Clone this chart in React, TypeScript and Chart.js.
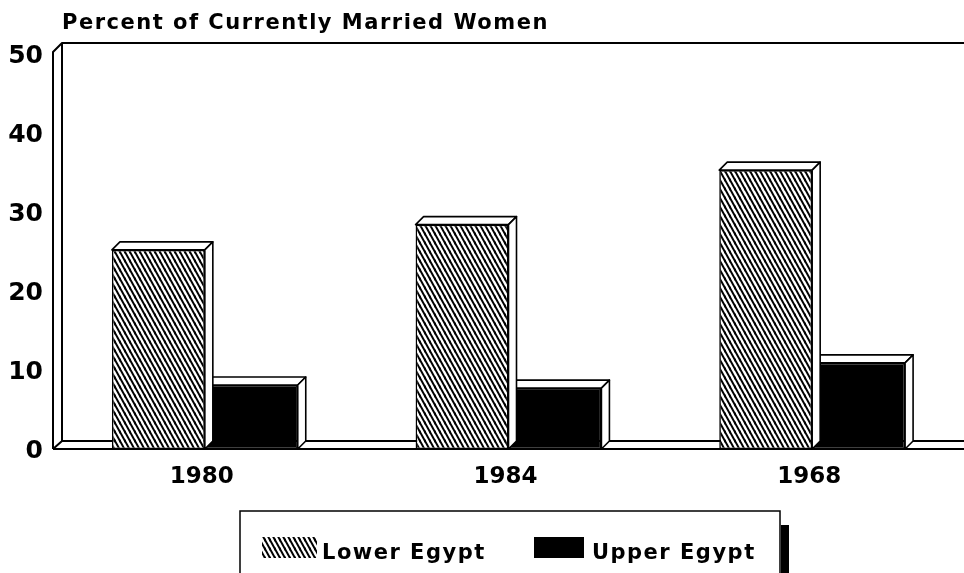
import React, { useEffect, useRef } from "react";
import { Chart, registerables } from "chart.js";

Chart.register(...registerables);

const categories = ["1980", "1984", "1968"];
const lowerEgypt = [25.2, 28.4, 35.3];
const upperEgypt = [8.1, 7.7, 10.9];
const seriesLabels = ["Lower Egypt", "Upper Egypt"];
const yMin = 0;
const yMax = 50;
const yStep = 10;
const titleText = "Percent of Currently Married Women";

function makeHatch(ctxRef: CanvasRenderingContext2D): CanvasPattern | string {
  const w = 5;
  const h = 9;
  const c = document.createElement("canvas");
  c.width = w;
  c.height = h;
  const g = c.getContext("2d");
  if (!g) return "#888";
  g.fillStyle = "#fff";
  g.fillRect(0, 0, w, h);
  g.strokeStyle = "#000";
  g.lineWidth = 2;
  const offs = [
    [0, 0],
    [-w, 0],
    [w, 0],
    [0, -h],
    [0, h],
  ];
  for (const [ox, oy] of offs) {
    g.beginPath();
    g.moveTo(-w + ox, -h + oy);
    g.lineTo(2 * w + ox, 2 * h + oy);
    g.stroke();
  }
  return ctxRef.createPattern(c, "repeat") || "#888";
}

const BAR_DEPTH = 8;
const WALL_DEPTH = 9;
const FONT = '"DejaVu Sans", sans-serif';

const threeDPlugin = {
  id: "threeD",
  beforeDraw(chart: any) {
    (chart.ctx as any).letterSpacing = "0px";
  },
  beforeDatasetsDraw(chart: any) {
    const { ctx, chartArea } = chart;
    const { left, right, top, bottom } = chartArea;
    const D = WALL_DEPTH;
    const yTop = top - 2;
    ctx.save();
    ctx.strokeStyle = "#000";
    ctx.lineWidth = 2;
    ctx.lineJoin = "round";
    ctx.beginPath();
    ctx.moveTo(left, bottom);
    ctx.lineTo(left, yTop);
    ctx.lineTo(left + D, yTop - D);
    ctx.lineTo(right + 20, yTop - D);
    ctx.moveTo(left + D, yTop - D);
    ctx.lineTo(left + D, bottom - 8);
    ctx.lineTo(right + 20, bottom - 8);
    ctx.moveTo(left, bottom);
    ctx.lineTo(left + D, bottom - 8);
    ctx.moveTo(left, bottom);
    ctx.lineTo(right + 20, bottom);
    ctx.stroke();
    ctx.restore();
  },
  afterDatasetDraw(chart: any, args: any) {
    const { ctx } = chart;
    const meta = chart.getDatasetMeta(args.index);
    const d = BAR_DEPTH;
    ctx.save();
    ctx.strokeStyle = "#000";
    ctx.fillStyle = "#fff";
    ctx.lineWidth = 1.6;
    ctx.lineJoin = "round";
    meta.data.forEach((el: any) => {
      const p = el.getProps(["x", "y", "base", "width"], true);
      const x1 = p.x - p.width / 2;
      const x2 = p.x + p.width / 2;
      const y = p.y;
      const base = p.base;
      ctx.beginPath();
      ctx.moveTo(x1, y);
      ctx.lineTo(x1 + d, y - d);
      ctx.lineTo(x2 + d, y - d);
      ctx.lineTo(x2, y);
      ctx.closePath();
      ctx.fill();
      ctx.stroke();
      ctx.beginPath();
      ctx.moveTo(x2, y);
      ctx.lineTo(x2 + d, y - d);
      ctx.lineTo(x2 + d, base - d);
      ctx.lineTo(x2, base);
      ctx.closePath();
      ctx.fill();
      ctx.stroke();
    });
    ctx.restore();
  },
  afterDraw(chart: any) {
    const { ctx } = chart;
    ctx.save();
    // title
    ctx.fillStyle = "#000";
    ctx.font = "bold 21px " + FONT;
    (ctx as any).letterSpacing = "1.5px";
    ctx.textAlign = "left";
    ctx.textBaseline = "alphabetic";
    ctx.fillText(titleText, 62, 29);

    // legend
    (ctx as any).letterSpacing = "1.5px";
    ctx.strokeStyle = "#000";
    ctx.lineWidth = 1.5;
    ctx.strokeRect(240, 511, 540, 100);
    ctx.fillStyle = "#000";
    ctx.fillRect(781, 525, 8, 60);
    const ds = chart.data.datasets;
    const items = [
      { sx: 262, sw: 55, tx: 322 },
      { sx: 534, sw: 50, tx: 592 },
    ];
    items.forEach((it, i) => {
      ctx.fillStyle = ds[i].backgroundColor;
      ctx.fillRect(it.sx, 537, it.sw, 21);
      ctx.fillStyle = "#000";
      ctx.font = "bold 21px " + FONT;
      ctx.fillText(ds[i].label, it.tx, 559);
    });
    ctx.restore();
  },
};

export default function App() {
  const ref = useRef<HTMLCanvasElement | null>(null);
  useEffect(() => {
    const canvas = ref.current;
    if (!canvas) return;
    const ctx2d = canvas.getContext("2d");
    if (!ctx2d) return;
    const hatch = makeHatch(ctx2d);
    const chart = new Chart(canvas, {
      type: "bar",
      data: {
        labels: categories,
        datasets: [
          {
            label: seriesLabels[0],
            data: lowerEgypt,
            backgroundColor: hatch as any,
            borderColor: "#000",
            borderWidth: 1.6,
            borderSkipped: false,
          },
          {
            label: seriesLabels[1],
            data: upperEgypt,
            backgroundColor: "#000",
            borderColor: "#000",
            borderWidth: 1.6,
            borderSkipped: false,
          },
        ],
      },
      options: {
        responsive: false,
        animation: false,
        devicePixelRatio: 1,
        layout: { padding: { top: 54, left: 0, right: 0, bottom: 0 } },
        datasets: {
          bar: { barPercentage: 1, categoryPercentage: 0.612 },
        },
        plugins: {
          legend: { display: false },
          title: { display: false },
          tooltip: { enabled: false },
        },
        scales: {
          x: {
            grid: { display: false },
            border: { display: false },
            ticks: {
              color: "#000",
              padding: 6,
              labelOffset: -3,
              font: { family: FONT, size: 23, weight: "bold" },
            },
            afterFit(scale: any) {
              scale.height = 124;
            },
          },
          y: {
            min: yMin,
            max: yMax,
            grid: { display: false },
            border: { display: false },
            ticks: {
              stepSize: yStep,
              color: "#000",
              padding: 2,
              labelOffset: 2,
              font: { family: FONT, size: 25, weight: "bold" },
            },
            afterFit(scale: any) {
              scale.width = 53;
            },
          },
        },
      },
      plugins: [threeDPlugin],
    });
    return () => chart.destroy();
  }, []);
  return (
    <div style={{ position: "fixed", left: 0, top: 0, width: 964, height: 573, background: "#fff" }}>
      <canvas ref={ref} width={964} height={573} style={{ display: "block" }} />
    </div>
  );
}
